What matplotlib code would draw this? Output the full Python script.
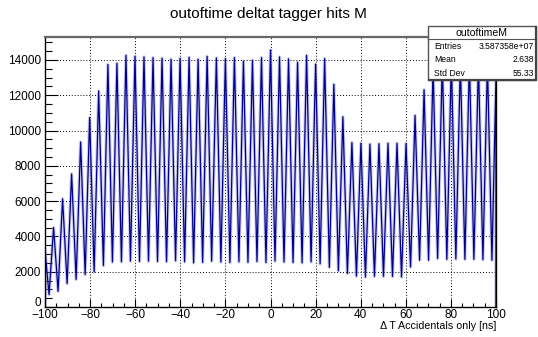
import matplotlib
matplotlib.use("Agg")
import matplotlib.pyplot as plt
from matplotlib.patches import Rectangle
from matplotlib.ticker import MultipleLocator, FuncFormatter

plt.rcParams["font.family"] = ["Liberation Sans", "DejaVu Sans"]

# Bunch peak centres [ns] and their heights
peak_t = [-96.2, -92.2, -88.2, -84.2, -80.2, -76.2, -72.1, -68.1, -64.1, -60.1,
          -56.1, -52.1, -48.1, -44.1, -40.1, -36.1, -32.1, -28.1, -24.0, -20.0,
          -16.0, -12.0, -8.0, -4.0, 0.0, 4.0, 8.0, 12.0, 16.0, 20.0,
          24.0, 28.1, 32.1, 36.1, 40.1, 44.1, 48.1, 52.1, 56.1, 60.1,
          64.1, 68.1, 72.1, 76.2, 80.2, 84.2, 88.2, 92.2, 96.2]
peak_h = [4500, 6130, 7540, 9350, 10730, 12240, 13740, 13810, 14260, 14200,
          14170, 14130, 14100, 14040, 14090, 14150, 14040, 14200, 14110, 14075,
          14130, 13925, 13980, 14130, 14560, 14170, 14056, 13870, 14260, 13760,
          14075, 12620, 10780, 9320, 9280, 9230, 9250, 9280, 9280, 9265,
          10860, 12310, 13600, 13900, 14000, 13900, 14000, 13900, 13800]

# Minima between bunches
valley_t = [-98.2, -94.2, -90.2, -86.2, -82.2, -78.2, -74.1, -70.1, -66.1, -62.1,
            -58.1, -54.1, -50.1, -46.1, -42.1, -38.1, -34.1, -30.1, -26.1, -22.0,
            -18.0, -14.0, -10.0, -6.0, -2.0, 2.0, 6.0, 10.0, 14.0, 18.0,
            22.0, 26.1, 30.1, 34.1, 38.1, 42.1, 46.1, 50.1, 54.1, 58.1,
            62.1, 66.1, 70.1, 74.1, 78.2, 82.2, 86.2, 90.2, 94.2, 98.2]
valley_h = [705, 890, 1330, 1560, 1840, 1990, 2350, 2550, 2560, 2600,
            2580, 2600, 2580, 2570, 2620, 2560, 2500, 2530, 2600, 2550,
            2520, 2560, 2530, 2580, 2520, 2600, 2550, 2520, 2500, 2560,
            2450, 2250, 2050, 1900, 1750, 1700, 1740, 1740, 1730, 1700,
            2270, 2650, 2650, 2750, 2700, 2720, 2700, 2700, 2680, 2650]

# histogram contents at the two range edges
edge_t = [-100.0, 100.0]
edge_h = [3200, 13000]

stats_name = "outoftimeM"
stats_rows = [("Entries", "3.587358e+07"), ("Mean", "2.638"), ("Std Dev", "55.33")]

# interleave valleys and peaks into one outline
xs = [edge_t[0], edge_t[0]]
ys = [0, edge_h[0]]
for i in range(len(peak_t)):
    xs += [valley_t[i], peak_t[i]]
    ys += [valley_h[i], peak_h[i]]
xs += [valley_t[-1], edge_t[1], edge_t[1]]
ys += [valley_h[-1], edge_h[1], 0]

W, H = 538, 337
fig = plt.figure(figsize=(W / 100, H / 100), dpi=100)
ax = fig.add_axes([45 / W, 1 - 307 / H, 451 / W, 270 / H])

# faint halo mimics the bin-to-bin scatter, dark line on top
ax.plot(xs, ys, color="#8c8cd0", lw=2.4, alpha=0.45)
ax.plot(xs, ys, color="#000090", lw=0.9)

ax.set_xlim(-100, 100)
ax.set_ylim(0, 15300)
ax.xaxis.set_major_locator(MultipleLocator(20))
ax.xaxis.set_minor_locator(MultipleLocator(5))
ax.yaxis.set_major_locator(MultipleLocator(2000))
ax.yaxis.set_minor_locator(MultipleLocator(500))
# the "0" is placed by hand a bit higher so it clears "-100"
ax.yaxis.set_major_formatter(FuncFormatter(lambda v, p: "" if v == 0 else f"{v:.0f}"))
ax.tick_params(which="both", direction="in", top=False, right=False,
               labelsize=8.5, width=0.8)
ax.tick_params(axis="y", which="major", length=9.7, pad=3)
ax.tick_params(axis="y", which="minor", length=4.9)
ax.tick_params(axis="x", which="major", length=5.8, pad=1.5)
ax.tick_params(axis="x", which="minor", length=2.9)
ax.grid(True, which="major", color="black", linestyle=(0, (1, 2)), lw=0.7)
for s in ax.spines.values():
    s.set_linewidth(1.0)
ax.spines["top"].set_color("#666666")
ax.spines["top"].set_linewidth(1.6)

fig.text(41 / W, 1 - 303 / H, "0", ha="right", va="center", fontsize=8.5)

fig.text(268 / W, 1 - 14 / H, "outoftime deltat tagger hits M",
         ha="center", va="center", fontsize=11)
fig.text(496 / W, 1 - 326 / H, "Δ T Accidentals only [ns]",
         ha="right", va="center", fontsize=7.7)

# stats box
bx0, bx1, by0, by1 = 428, 536, 26, 80
fig.patches.append(Rectangle((bx0 / W, 1 - by1 / H), (bx1 - bx0) / W, (by1 - by0) / H,
                             transform=fig.transFigure, facecolor="white",
                             edgecolor="#555555", lw=1.0, zorder=5))
fig.add_artist(plt.Line2D([bx0 / W, bx1 / W], [1 - 39 / H, 1 - 39 / H],
                          transform=fig.transFigure, color="#555555", lw=0.8, zorder=6))
fig.add_artist(plt.Line2D([bx1 / W, bx1 / W, (bx0 + 1) / W],
                          [1 - (by0 + 1) / H, 1 - by1 / H, 1 - by1 / H],
                          transform=fig.transFigure, color="#444444", lw=1.6, zorder=6))
fig.text((bx0 + bx1) / 2 / W, 1 - 33 / H, stats_name, ha="center", va="center",
         fontsize=7.6, zorder=7)
for j, (lab, val) in enumerate(stats_rows):
    yy = 1 - (46.5 + 13.4 * j) / H
    fig.text(434 / W, yy, lab, ha="left", va="center", fontsize=6.2, zorder=7)
    fig.text(534 / W, yy, val, ha="right", va="center", fontsize=6.2, zorder=7)

fig.savefig("out.png", dpi=100)
